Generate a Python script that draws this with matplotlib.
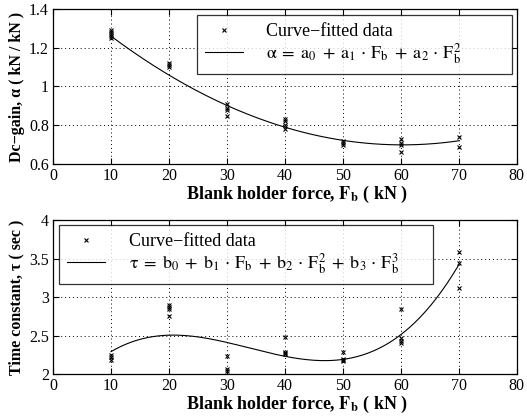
"""
Dc-gain and time constant vs. blank holder force, with polynomial fits.
"""

import matplotlib

matplotlib.use("Agg")
import matplotlib.pyplot as plt
import numpy as np
from matplotlib.ticker import FuncFormatter

plt.rcParams["font.family"] = ["Liberation Serif", "DejaVu Serif"]
plt.rcParams["mathtext.fontset"] = "stix"

# measured points (force in kN)
GAIN_FORCE = [10, 10, 10, 10, 10, 20, 20, 20, 30, 30, 30, 30,
              40, 40, 40, 40, 50, 50, 50, 60, 60, 60, 60, 70, 70]
GAIN_VALUE = [1.29, 1.28, 1.27, 1.26, 1.25, 1.12, 1.11, 1.10, 0.91, 0.89, 0.88, 0.85,
              0.83, 0.82, 0.80, 0.78, 0.72, 0.71, 0.70, 0.73, 0.71, 0.70, 0.66, 0.74, 0.69]

TAU_FORCE = [10, 10, 10, 20, 20, 20, 20, 30, 30, 30,
             40, 40, 40, 40, 50, 50, 50, 50, 60, 60, 60, 60, 70, 70, 70]
TAU_VALUE = [2.25, 2.22, 2.18, 2.90, 2.87, 2.84, 2.75, 2.24, 2.06, 2.04,
             2.48, 2.28, 2.27, 2.26, 2.29, 2.19, 2.18, 2.17, 2.84, 2.47, 2.43, 2.40, 3.58, 3.44, 3.12]

# fitted polynomial coefficients (highest power first)
GAIN_COEFS = [2.222e-4, -0.02678, 1.5056]
TAU_COEFS = [3.729e-5, -3.781e-3, 0.10874, 1.5436]

FIT_RANGE = (10, 70)

XLABEL = r"Blank holder force, $\mathbf{F_b}$ ( kN )"
GAIN_FIT_LABEL = (r"$\mathrm{\alpha}\;=\;\mathrm{a}_0\;+\;\mathrm{a}_1\,\cdot\,\mathrm{F}_\mathrm{b}"
                  r"\;+\;\mathrm{a}_2\,\cdot\,\mathrm{F}_\mathrm{b}^2$")
TAU_FIT_LABEL = (r"$\mathrm{\tau}\;=\;\mathrm{b}_0\;+\;\mathrm{b}_1\,\cdot\,\mathrm{F}_\mathrm{b}"
                 r"\;+\;\mathrm{b}_2\,\cdot\,\mathrm{F}_\mathrm{b}^2"
                 r"\;+\;\mathrm{b}_3\,\cdot\,\mathrm{F}_\mathrm{b}^3$")


def style_axis(ax, ylim, yticks):
    ax.set_xlim(0, 80)
    ax.set_xticks(range(0, 81, 10))
    ax.set_ylim(*ylim)
    ax.set_yticks(yticks)
    ax.yaxis.set_major_formatter(FuncFormatter(lambda v, p: f"{v:g}"))
    ax.grid(True, color="black", linestyle=(0, (1, 3)), linewidth=0.7)
    ax.tick_params(direction="in", top=True, right=True, labelsize=11.5,
                   length=4, pad=3)
    for spine in ax.spines.values():
        spine.set_linewidth(0.9)
    ax.set_xlabel(XLABEL, fontsize=13, fontweight="bold", labelpad=1)
    ax.xaxis.set_label_coords(0.526, -0.13)


def add_legend(ax, box):
    leg = ax.legend(loc="upper left", bbox_to_anchor=box, mode="expand",
                    fontsize=13, frameon=True, fancybox=False, edgecolor="black",
                    handlelength=2.1, handletextpad=1.3, borderpad=0.45,
                    labelspacing=0.05, borderaxespad=0)
    leg.get_frame().set_linewidth(0.9)
    return leg


fig = plt.figure(figsize=(5.27, 4.19), dpi=100)
ax_top = fig.add_axes([0.1006, 0.6086, 0.880, 0.370])
ax_bot = fig.add_axes([0.1006, 0.1074, 0.880, 0.3675])

xs = np.linspace(FIT_RANGE[0], FIT_RANGE[1], 200)

# --- Dc-gain
ax_top.plot(GAIN_FORCE, GAIN_VALUE, "x", color="black", markersize=3.5,
            markeredgewidth=0.8, label="Curve\u2212fitted data")
ax_top.plot(xs, np.polyval(GAIN_COEFS, xs), color="black", linewidth=0.8,
            label=GAIN_FIT_LABEL)
style_axis(ax_top, (0.6, 1.4), [0.6, 0.8, 1.0, 1.2, 1.4])
ax_top.set_ylabel("Dc\u2212gain, \u03b1 ( kN / kN )", fontsize=11.5,
                  fontweight="bold", labelpad=3)
add_legend(ax_top, (0.310, 0.626, 0.679, 0.335))

# --- Time constant
ax_bot.plot(TAU_FORCE, TAU_VALUE, "x", color="black", markersize=3.5,
            markeredgewidth=0.8, label="Curve\u2212fitted data")
ax_bot.plot(xs, np.polyval(TAU_COEFS, xs), color="black", linewidth=0.8,
            label=TAU_FIT_LABEL)
style_axis(ax_bot, (2, 4), [2, 2.5, 3, 3.5, 4])
ax_bot.set_ylabel("Time constant, \u03c4 ( sec )", fontsize=11.5,
                  fontweight="bold", labelpad=3)
add_legend(ax_bot, (0.013, 0.591, 0.806, 0.377))

fig.savefig("out.png", dpi=100)
